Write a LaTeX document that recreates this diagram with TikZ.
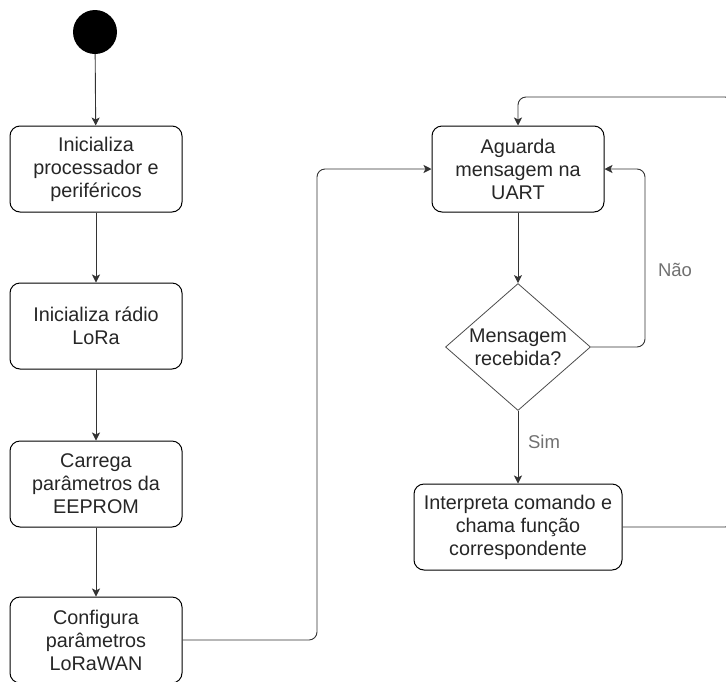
\documentclass[tikz,border=0pt]{standalone}
\usepackage{fontspec}
\setmainfont{Liberation Sans}
\usetikzlibrary{shapes.geometric,arrows.meta,calc}
\definecolor{lbl}{HTML}{707070}
\definecolor{cline}{HTML}{333333}
\tikzset{
  txt/.style={align=center, font=\fontsize{19.8}{23}\selectfont, text=black!85},
  stepbox/.style={txt, draw=black, line width=1pt, rounded corners=10pt, minimum width=172pt, minimum height=86pt, inner sep=2pt},
  decbox/.style={draw=black!70, line width=0.8pt, shape=diamond, minimum width=145pt, minimum height=127pt, inner sep=0pt},
  conn/.style={draw=cline, line width=0.9pt, rounded corners=8pt, -{Stealth[length=8pt,width=8pt,inset=2pt]}},
  lbltext/.style={text=lbl, font=\fontsize{18.5}{22}\selectfont}
}
\begin{document}
\begin{tikzpicture}[x=1pt,y=-1pt]
\useasboundingbox (0,0) rectangle (726,681);
\node[circle, fill=black, minimum size=44pt, inner sep=0pt] (s) at (95,32) {};
\node[stepbox] (b1) at (96,169) {Inicializa\\processador e\\periféricos};
\node[stepbox] (b2) at (96,326) {Inicializa rádio\\LoRa};
\node[stepbox] (b3) at (96,484) {Carrega\\parâmetros da\\EEPROM};
\node[stepbox] (b4) at (96,640) {Configura\\parâmetros\\LoRaWAN};
\node[stepbox] (a) at (518,169) {Aguarda\\mensagem na\\UART};
\node[decbox, label={[txt]center:Mensagem\\recebida?}] (d) at (518,347) {};
\node[stepbox, minimum width=208pt] (i) at (518,527) {Interpreta comando e\\chama função\\correspondente};
\coordinate (c1) at (317,0);
\coordinate (c2) at (645,0);
\coordinate (c3) at (733,97);
\draw[conn] (s) -- (b1);
\draw[conn] (b1) -- (b2);
\draw[conn] (b2) -- (b3);
\draw[conn] (b3) -- (b4);
\draw[conn] (b4.east) -| (c1 |- a.west) -- (a.west);
\draw[conn] (a) -- (d);
\draw[conn] (d.east) -| (c2 |- a.east) -- (a.east);
\draw[conn] (d) -- (i);
\draw[conn] (i.east) -| (c3) -| (a.north);
\node[lbltext] (nao) at (675,270) {Não};
\node[lbltext] (sim) at (544,442) {Sim};
\end{tikzpicture}
\end{document}
